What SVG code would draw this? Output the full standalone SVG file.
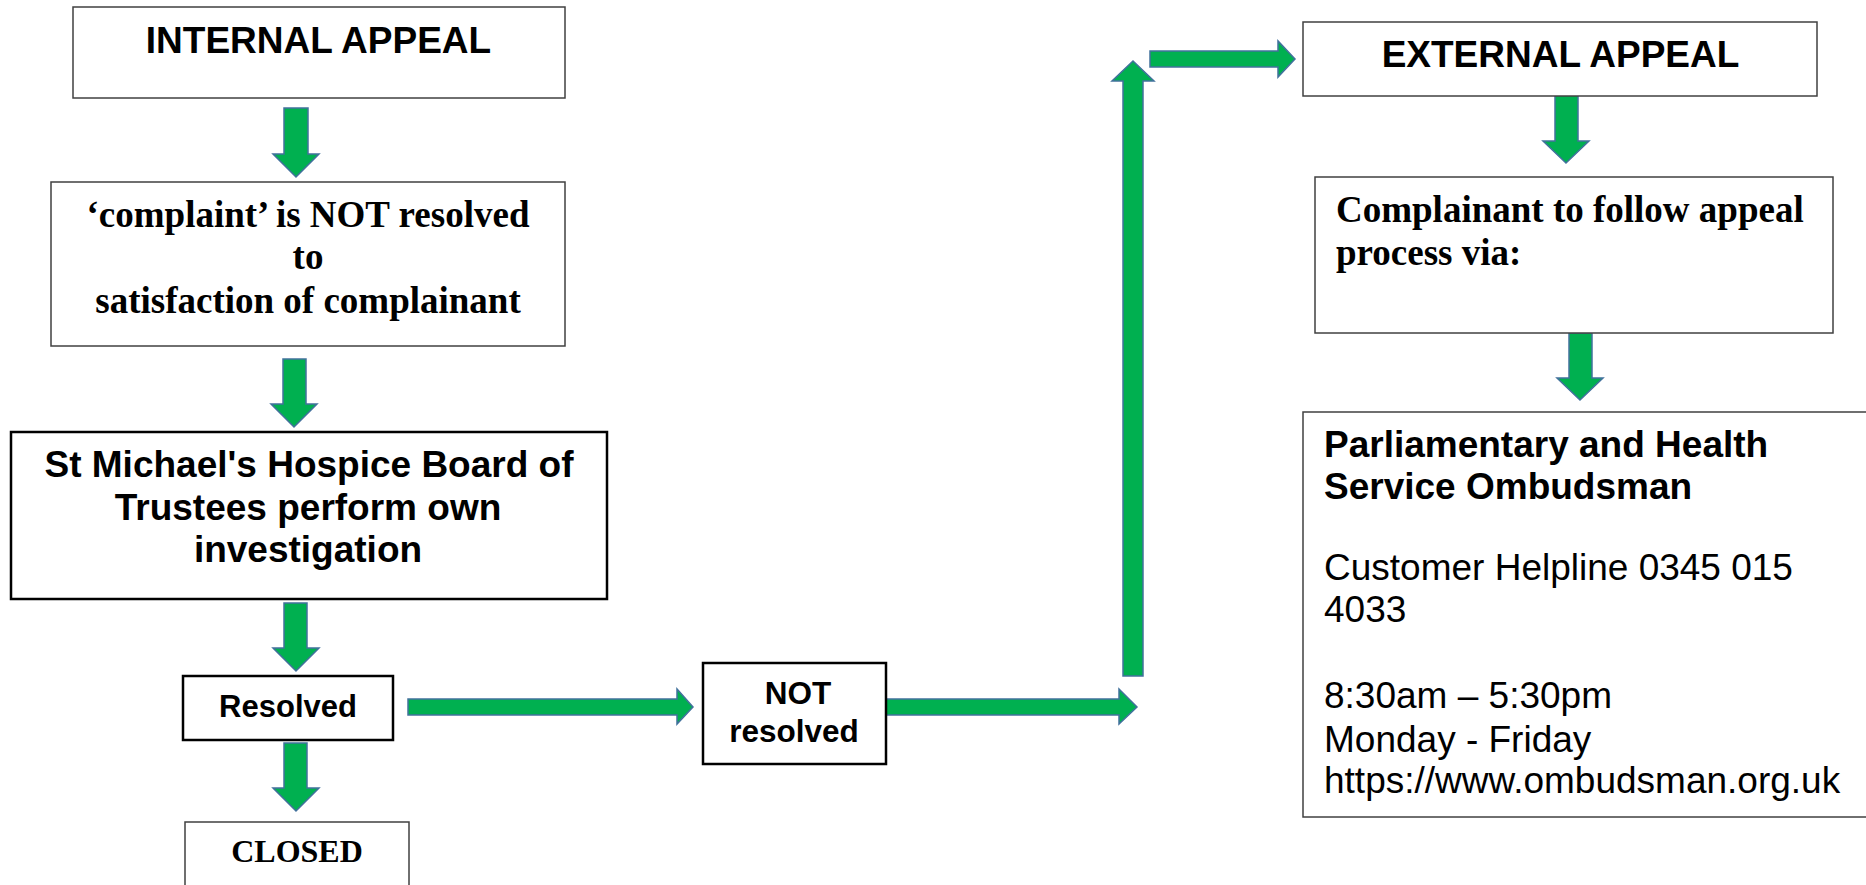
<svg xmlns="http://www.w3.org/2000/svg" width="1866" height="885" viewBox="0 0 1866 885">
  <style>
    .box { fill: #ffffff; stroke: #404040; stroke-width: 1.5; }
    .boxb { fill: #ffffff; stroke: #000000; stroke-width: 2.5; }
    .arr { fill: #00B050; stroke: #41719C; stroke-width: 1.5; stroke-linejoin: miter; }
    .sb { font-family: "Liberation Sans", Arial, sans-serif; font-weight: bold; fill: #000; }
    .sr { font-family: "Liberation Sans", Arial, sans-serif; font-weight: normal; fill: #000; }
    .tb { font-family: "Liberation Serif", "Times New Roman", serif; font-weight: bold; fill: #000; }
  </style>
  <rect width="1866" height="885" fill="#ffffff"/>

  <g id="connectors">
    <polygon class="arr" points="284,108 308,108 308,154 319,154 296,177 273,154 284,154"/>
    <polygon class="arr" points="283,359 306,359 306,404 317,404 294,427 271,404 283,404"/>
    <polygon class="arr" points="284,603 307,603 307,648 319,648 296,671 273,648 284,648"/>
    <polygon class="arr" points="284,743 307,743 307,788 319,788 296,811 273,788 284,788"/>
    <polygon class="arr" points="408,699 677,699 677,689 693,707 677,724 677,715 408,715"/>
    <polygon class="arr" points="886,699 1119,699 1119,689 1137,707 1119,724 1119,715 886,715"/>
    <polygon class="arr" points="1123,676 1123,81 1112,81 1133,61 1154,81 1143,81 1143,676"/>
    <polygon class="arr" points="1150,51 1278,51 1278,41 1295,59 1278,77 1278,67 1150,67"/>
    <polygon class="arr" points="1555,95 1578,95 1578,141 1589,141 1566,163 1543,141 1555,141"/>
    <polygon class="arr" points="1569,333 1592,333 1592,378 1603,378 1580,400 1557,378 1569,378"/>
  </g>

  <g id="internal-appeal">
    <rect class="box" x="73" y="7" width="492" height="91"/>
    <text class="sb" x="318.5" y="53" font-size="37" text-anchor="middle">INTERNAL APPEAL</text>
  </g>

  <g id="complaint-not-resolved">
    <rect class="box" x="51" y="182" width="514" height="164"/>
    <text class="tb" x="308" y="227" font-size="37" text-anchor="middle">‘complaint’ is NOT resolved</text>
    <text class="tb" x="308" y="269" font-size="37" text-anchor="middle">to</text>
    <text class="tb" x="308" y="313" font-size="37" text-anchor="middle">satisfaction of complainant</text>
  </g>

  <g id="trustees-investigation">
    <rect class="boxb" x="11" y="432" width="596" height="167"/>
    <text class="sb" x="309" y="477" font-size="37" text-anchor="middle">St Michael's Hospice Board of</text>
    <text class="sb" x="308" y="520" font-size="37" text-anchor="middle">Trustees perform own</text>
    <text class="sb" x="308" y="562" font-size="37" text-anchor="middle">investigation</text>
  </g>

  <g id="resolved">
    <rect class="boxb" x="183" y="676" width="210" height="64"/>
    <text class="sb" x="288" y="717" font-size="31" text-anchor="middle">Resolved</text>
  </g>

  <g id="closed">
    <rect class="box" x="185" y="822" width="224" height="80"/>
    <text class="tb" x="297" y="862" font-size="32" text-anchor="middle">CLOSED</text>
  </g>

  <g id="not-resolved">
    <rect class="boxb" x="703" y="663" width="183" height="101"/>
    <text class="sb" x="798" y="704" font-size="31.5" text-anchor="middle">NOT</text>
    <text class="sb" x="794" y="742" font-size="31.5" text-anchor="middle">resolved</text>
  </g>

  <g id="external-appeal">
    <rect class="box" x="1303" y="22" width="514" height="74"/>
    <text class="sb" x="1560.5" y="67" font-size="37" text-anchor="middle">EXTERNAL APPEAL</text>
  </g>

  <g id="appeal-process">
    <rect class="box" x="1315" y="177" width="518" height="156"/>
    <text class="tb" x="1336" y="222" font-size="37">Complainant to follow appeal</text>
    <text class="tb" x="1336" y="265" font-size="37">process via:</text>
  </g>

  <g id="ombudsman">
    <rect class="box" x="1303" y="412" width="570" height="405"/>
    <text class="sb" x="1324" y="457" font-size="37">Parliamentary and Health</text>
    <text class="sb" x="1324" y="499" font-size="37">Service Ombudsman</text>
    <text class="sr" x="1324" y="580" font-size="37">Customer Helpline 0345 015</text>
    <text class="sr" x="1324" y="622" font-size="37">4033</text>
    <text class="sr" x="1324" y="708" font-size="37">8:30am – 5:30pm</text>
    <text class="sr" x="1324" y="752" font-size="37">Monday - Friday</text>
    <text class="sr" x="1324" y="793" font-size="37">https://www.ombudsman.org.uk</text>
  </g>
</svg>
